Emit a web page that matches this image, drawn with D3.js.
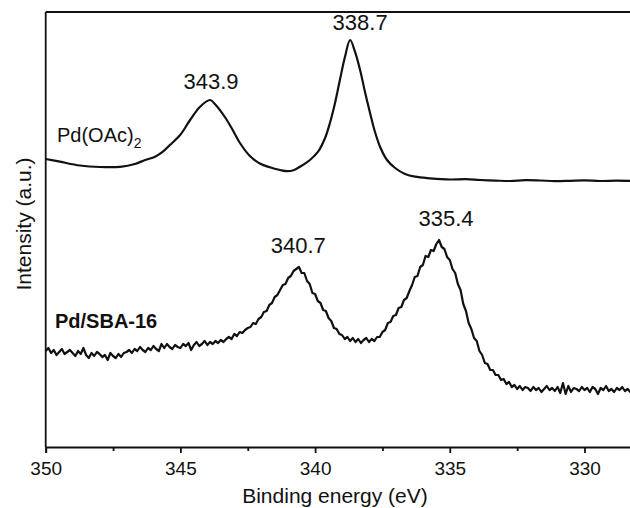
<!DOCTYPE html>
<html>
<head>
<meta charset="utf-8">
<script src="https://cdn.jsdelivr.net/npm/d3@7/dist/d3.min.js"></script>
<style>
  html, body { margin: 0; padding: 0; background: #fff; }
  svg { display: block; font-family: "Liberation Sans", Arial, sans-serif; }
</style>
</head>
<body>
<svg id="chart" width="630" height="508"></svg>
<script>
// Pd 3d XPS spectra: Pd(OAc)2 precursor and Pd/SBA-16 catalyst

// Pd(OAc)2 spectrum (binding energy in eV, intensity in a.u.)
const pdOAcEnergy = [
  350.0, 349.47, 348.73, 347.98, 347.24, 346.69, 346.31, 345.94, 345.65, 345.39,
  345.01, 344.64, 344.27, 343.9, 343.72, 343.35, 343.08, 342.79, 342.42, 342.05,
  341.68, 341.30, 341.04, 340.8, 340.56, 340.19, 339.89, 339.63, 339.45, 339.26,
  339.08, 338.89, 338.7, 338.52, 338.33, 338.15, 337.96, 337.78, 337.59, 337.33,
  337.03, 336.66, 336.29, 335.73, 334.99, 334.4, 333.88, 333.3, 332.76, 332.2,
  331.65, 331.1, 330.54, 330.0, 329.42, 328.8, 328.2
];
const pdOAcIntensity = [
  288, 285.3, 281.5, 280, 280.2, 283, 287, 290.3, 295.3, 302,
  312, 327, 340.3, 347, 343, 330, 318, 304, 291, 283.5,
  279.7, 277, 275.8, 276.8, 280.3, 287, 295.3, 309, 324, 344,
  367, 390.3, 407, 395.3, 377, 355.3, 334, 315.3, 300.3, 287,
  279, 273, 270.3, 268.7, 267.5, 267.8, 267, 266.4, 266, 266.8,
  266.5, 265.9, 266.2, 266.6, 266, 266.3, 266
];

// Pd/SBA-16 spectrum, sampled every 0.1 eV from 350.0 eV down to 328.2 eV
const sbaStartEnergy = 350.0;
const sbaStep = 0.1;
const pdSBAIntensity = [
  96, 99, 94, 97, 92, 95, 98, 93, 95, 97,
  94, 91, 96, 93, 99, 92, 89, 94, 91, 95,
  93, 90, 92, 87, 94, 91, 89, 93, 90, 94,
  95, 97, 94, 98, 96, 100, 97, 95, 99, 97,
  101, 98, 96, 103, 99, 103, 100, 98, 102, 100,
  99, 103, 101, 104, 97, 102, 105, 101, 103, 106,
  102, 105, 103, 106, 104, 107, 105, 108, 110, 108,
  113, 111, 115, 114, 117, 119, 120, 124, 123, 128,
  130, 135, 136, 142, 144, 150, 152, 157, 162, 163,
  169, 171, 176, 178, 180, 174, 174, 166, 163, 154,
  153, 146, 144, 137, 136, 129, 126, 119, 118, 113,
  112, 108, 110, 106, 109, 105, 108, 104, 107, 109,
  105, 108, 106, 110, 110, 115, 117, 124, 125, 131,
  132, 139, 140, 147, 149, 156, 162, 170, 171, 180,
  182, 191, 190, 197, 196, 203, 207, 200, 198, 190,
  187, 178, 174, 163, 157, 143, 136, 124, 118, 109,
  106, 96, 92, 84, 83, 77, 77, 72, 72, 67,
  68, 63, 65, 60, 62, 58, 61, 57, 60, 59,
  56, 60, 57, 59, 55, 58, 61, 57, 59, 56,
  60, 54, 64, 53, 61, 55, 59, 58, 56, 60,
  57, 59, 55, 60, 58, 53, 59, 57, 61, 56,
  58, 55, 59, 57, 60, 56, 58, 55, 57
];

// Axis ticks
const majorTicks = [350, 345, 340, 335, 330];
const minorTicks = [347.5, 342.5, 337.5, 332.5, 327.5];

// Peak annotations (binding energies in eV)
const peakLabels = [343.9, 338.7, 340.7, 335.4];
const peakSeries = ["oac", "oac", "sba", "sba"];

const svg = d3.select("#chart");
const W = 630, H = 508;
const mLeft = 45.7, mTop = 12, mBottom = 447;
const ink = "#111";

// x runs from high to low binding energy
const x = d3.scaleLinear().domain([350, 328]).range([mLeft, mLeft + 22 * 26.94]);
const y = d3.scaleLinear().domain([0, 435]).range([mBottom, mTop]);

const oacData = pdOAcEnergy.map((e, i) => ({ e, v: pdOAcIntensity[i] }));
const sbaData = pdSBAIntensity.map((v, i) => ({ e: sbaStartEnergy - i * sbaStep, v }));

svg.append("defs").append("clipPath").attr("id", "plotclip")
  .append("rect").attr("x", mLeft).attr("y", mTop).attr("width", W - mLeft).attr("height", mBottom - mTop);

const plot = svg.append("g").attr("clip-path", "url(#plotclip)");
plot.append("path").datum(oacData)
  .attr("d", d3.line().x(d => x(d.e)).y(d => y(d.v)).curve(d3.curveCatmullRom.alpha(0.5)))
  .attr("fill", "none").attr("stroke", ink).attr("stroke-width", 2.2)
  .attr("stroke-linejoin", "round");
plot.append("path").datum(sbaData)
  .attr("d", d3.line().x(d => x(d.e)).y(d => y(d.v)))
  .attr("fill", "none").attr("stroke", ink).attr("stroke-width", 2.2)
  .attr("stroke-linejoin", "round");

// Frame: top border, left axis
svg.append("line").attr("x1", mLeft).attr("x2", W).attr("y1", mTop).attr("y2", mTop)
  .attr("stroke", ink).attr("stroke-width", 1.8);
svg.append("line").attr("x1", mLeft).attr("x2", mLeft).attr("y1", mTop).attr("y2", mBottom)
  .attr("stroke", ink).attr("stroke-width", 1.8);

// Bottom axis with major and minor ticks
const xAxis = svg.append("g").attr("transform", `translate(0,${mBottom})`)
  .call(d3.axisBottom(x).tickValues(majorTicks).tickSize(6).tickPadding(9)
    .tickFormat(d3.format("d")));
xAxis.select(".domain").attr("stroke", ink).attr("stroke-width", 1.8);
xAxis.selectAll(".tick line").attr("stroke", ink).attr("stroke-width", 1.8);
xAxis.selectAll(".tick text").attr("font-size", 19).attr("fill", ink)
  .attr("font-family", "'Liberation Sans', Arial, sans-serif");

const xMinor = svg.append("g").attr("transform", `translate(0,${mBottom})`)
  .call(d3.axisBottom(x).tickValues(minorTicks.filter(t => x(t) < W)).tickSize(4).tickFormat(""));
xMinor.select(".domain").remove();
xMinor.selectAll(".tick line").attr("stroke", ink).attr("stroke-width", 1.8);

// Axis titles
svg.append("text").attr("x", 335).attr("y", 503).attr("text-anchor", "middle")
  .attr("font-size", 21).attr("fill", ink).text("Binding energy (eV)");
svg.append("text").attr("transform", "translate(31,224) rotate(-90)")
  .attr("text-anchor", "middle").attr("font-size", 21).attr("fill", ink)
  .text("Intensity (a.u.)");

// Series names
const oacLabel = svg.append("text").attr("x", 57).attr("y", 142)
  .attr("font-size", 20).attr("fill", ink);
oacLabel.append("tspan").text("Pd(OAc)");
oacLabel.append("tspan").attr("font-size", 14).attr("dy", 6).text("2");
svg.append("text").attr("x", 55).attr("y", 328)
  .attr("font-size", 20).attr("font-weight", "bold").attr("fill", ink)
  .text("Pd/SBA-16");

// Peak position labels, placed above each peak maximum
const peakValue = (series, e) => {
  const data = series === "oac" ? oacData : sbaData;
  return d3.max(data.filter(d => Math.abs(d.e - e) < 0.35), d => d.v);
};
const labelShift = { "343.9": [1, -11], "338.7": [10, -10], "340.7": [2, -14], "335.4": [7, -14] };
peakLabels.forEach((p, i) => {
  const s = labelShift[String(p)];
  svg.append("text")
    .attr("x", x(p) + s[0])
    .attr("y", y(peakValue(peakSeries[i], p)) + s[1])
    .attr("text-anchor", "middle").attr("font-size", 22).attr("fill", ink)
    .text(d3.format(".1f")(p));
});
</script>
</body>
</html>
